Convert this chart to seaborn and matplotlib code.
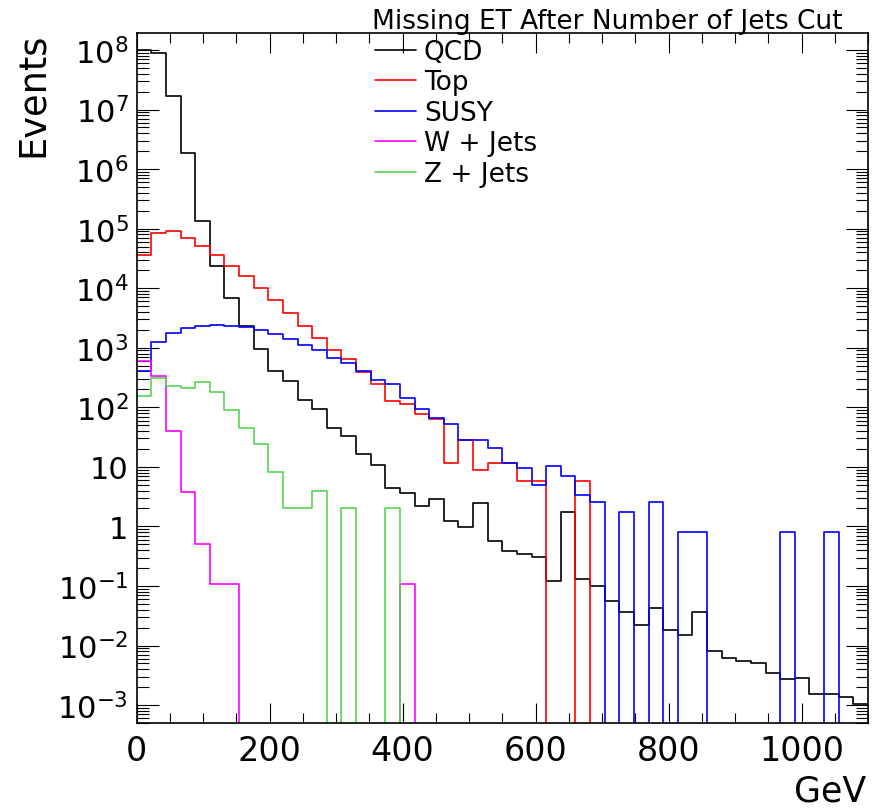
import numpy as np
import pandas as pd
import matplotlib
matplotlib.use('Agg')
import matplotlib.pyplot as plt
import seaborn as sns
from matplotlib.ticker import FixedLocator, LogLocator, MultipleLocator, NullFormatter

# 50 bins of 22 GeV from 0 to 1100
bin_edges = [22.0 * i for i in range(51)]

# events per bin (0 = empty bin)
qcd = [1.0e8, 9.0e7, 1.67e7, 1.86e6, 1.34e5, 2.4e4, 6.9e3, 2.3e3, 950, 405,
       272, 132, 92, 45.6, 32.6, 16.3, 10.8, 4.45, 3.67, 2.24,
       2.9, 1.23, 0.96, 2.43, 0.58, 0.385, 0.34, 0.31, 0.12, 1.78,
       0.133, 0.10, 0.056, 0.036, 0.022, 0.043, 0.018, 0.015, 0.036, 0.0082,
       0.0062, 0.0055, 0.005, 0.0035, 0.0027, 0.0029, 0.00154, 0.00154, 0.00135, 0.00104]
top = [3.6e4, 8.5e4, 9.0e4, 7.0e4, 5.1e4, 3.6e4, 2.4e4, 1.6e4, 1.02e4, 6.3e3,
       3.8e3, 2.35e3, 1.45e3, 920, 645, 385, 250, 127, 112, 76,
       64.5, 11.8, 28.6, 8.7, 11.8, 11.8, 5.75, 5.75, 0, 0,
       5.8, 0, 0, 0, 0, 0, 0, 0, 0, 0,
       0, 0, 0, 0, 0, 0, 0, 0, 0, 0]
susy = [405, 1.24e3, 1.8e3, 2.15e3, 2.35e3, 2.45e3, 2.35e3, 2.2e3, 2.0e3, 1.7e3,
        1.43e3, 1.13e3, 920, 680, 565, 410, 293, 250, 146, 94,
        67, 51.5, 28.6, 28.6, 21, 11.8, 9.5, 5.05, 10.2, 6.9,
        3.35, 2.55, 0, 1.72, 0, 2.55, 0, 0.82, 0.82, 0,
        0, 0, 0, 0, 0.82, 0, 0, 0.82, 0, 0]
wjets = [590, 340, 40, 3.85, 0.5, 0.107, 0.107, 0, 0, 0,
         0, 0, 0, 0, 0, 0, 0, 0, 0.107, 0,
         0, 0, 0, 0, 0, 0, 0, 0, 0, 0,
         0, 0, 0, 0, 0, 0, 0, 0, 0, 0,
         0, 0, 0, 0, 0, 0, 0, 0, 0, 0]
zjets = [152, 310, 228, 215, 262, 182, 89, 45.6, 24, 8.3,
         2.0, 2.0, 4.0, 0, 2.0, 0, 0, 2.0, 0, 0,
         0, 0, 0, 0, 0, 0, 0, 0, 0, 0,
         0, 0, 0, 0, 0, 0, 0, 0, 0, 0,
         0, 0, 0, 0, 0, 0, 0, 0, 0, 0]

names = ['QCD', 'Top', 'SUSY', 'W + Jets', 'Z + Jets']
colors = ['black', '#ff0000', '#0000ff', '#ff00ff', '#59d454']

ytick_vals = [1e-3, 1e-2, 1e-1, 1, 10, 1e2, 1e3, 1e4, 1e5, 1e6, 1e7, 1e8]
ytick_labels = ['$10^{-3}$', '$10^{-2}$', '$10^{-1}$', '1', '10', '$10^{2}$',
                '$10^{3}$', '$10^{4}$', '$10^{5}$', '$10^{6}$', '$10^{7}$', '$10^{8}$']

sns.set_theme(style='ticks')
plt.rcParams['font.family'] = ['DejaVu Sans']
plt.rcParams['mathtext.fontset'] = 'dejavusans'
plt.rcParams['text.color'] = 'black'

fig = plt.figure(figsize=(8.81, 8.12), dpi=100)
ax = fig.add_axes([136.7 / 881, 1 - 724 / 812, (868 - 136.7) / 881, (724 - 34) / 812])

edges = np.array(bin_edges)
centers = (edges[:-1] + edges[1:]) / 2
for name, vals, col in zip(names, [qcd, top, susy, wjets, zjets], colors):
    df = pd.DataFrame({'met': centers, 'events': vals})
    sns.histplot(data=df, x='met', weights='events', bins=bin_edges, element='step',
                 fill=False, color=col, linewidth=1.2, label=name, ax=ax)

ax.set_yscale('log')
ax.set_xlim(0, 1100)
ax.set_ylim(5e-4, 1.93e8)

ax.xaxis.set_major_locator(MultipleLocator(200))
ax.xaxis.set_minor_locator(MultipleLocator(50))
ax.yaxis.set_major_locator(FixedLocator(ytick_vals))
ax.set_yticklabels(ytick_labels)
ax.yaxis.set_minor_locator(LogLocator(base=10, subs=np.arange(2, 10), numticks=50))
ax.yaxis.set_minor_formatter(NullFormatter())

ax.tick_params(axis='both', which='both', direction='in', top=True, right=True,
               color='black', width=0.8, labelcolor='black')
ax.tick_params(axis='x', which='major', length=14.5, labelsize=24, pad=8)
ax.tick_params(axis='x', which='minor', length=7.2)
ax.tick_params(axis='y', which='major', length=16, labelsize=22, pad=6)
ax.tick_params(axis='y', which='minor', length=8.4)
for sp in ax.spines.values():
    sp.set_linewidth(1.2)
    sp.set_color('black')

ax.set_xlabel('')
ax.set_ylabel('')
fig.text(866 / 881, 1 - 802 / 812, 'GeV', fontsize=25, ha='right', va='baseline', color='black')
fig.text(14 / 881, 1 - 33 / 812, 'Events', fontsize=26.5, rotation=90, ha='left', va='top',
         color='black')
fig.text(372 / 881, 1 - 29 / 812, 'Missing ET After Number of Jets Cut', fontsize=19,
         ha='left', va='baseline', color='black')

leg = ax.legend(loc='upper left', bbox_to_anchor=(375 / 881, 1 - 40 / 812),
                bbox_transform=fig.transFigure, frameon=False, fontsize=19,
                borderpad=0, borderaxespad=0, handlelength=1.55, handletextpad=0.3,
                labelspacing=0.17)
for t in leg.get_texts():
    t.set_color('black')

fig.savefig('out.png', dpi=100)
